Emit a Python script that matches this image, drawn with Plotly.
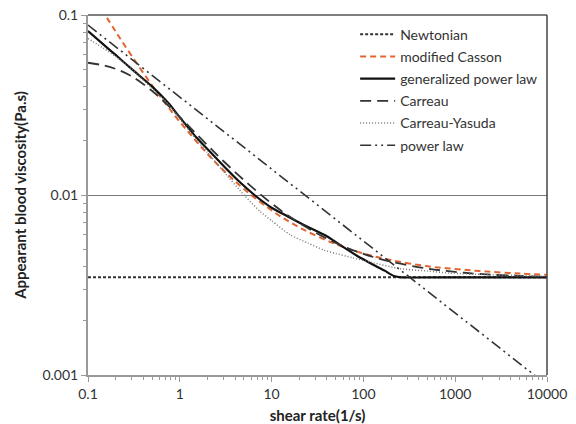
import plotly.graph_objects as go

# ---- data ----
newt_x = [0.1, 10000]
newt_y = [0.00349, 0.00349]

casson_x = [0.14, 0.2, 0.3, 0.5, 0.7, 1, 2, 3, 5, 10, 20, 50, 100, 200, 500, 1000, 2000, 5000, 10000]
casson_y = [0.108, 0.0810, 0.0591, 0.0406, 0.0322, 0.0255, 0.01693, 0.01369, 0.01079, 0.00821,
            0.00661, 0.00533, 0.00473, 0.00435, 0.00402, 0.00388, 0.00377, 0.00366, 0.00360]

gpl_x = [0.1, 0.15, 0.2, 0.3, 0.5, 0.75, 1, 1.5, 2, 3, 4.5, 6.5, 10, 15, 24, 40, 55, 85, 128, 170, 215, 260, 1000, 10000]
gpl_y = [0.0815, 0.068, 0.060, 0.050, 0.040, 0.0324, 0.0270, 0.0210, 0.0180, 0.0145, 0.0118, 0.0100,
         0.0085, 0.0076, 0.0067, 0.0059, 0.0053, 0.0046, 0.0041, 0.0038, 0.00355, 0.00349, 0.00349, 0.00349]

carreau_x = [0.1, 0.15, 0.2, 0.3, 0.5, 0.7, 1, 2, 3, 5, 10, 20, 50, 100, 200, 500, 1000, 2000, 5000, 10000]
carreau_y = [0.0543, 0.0524, 0.0502, 0.0456, 0.0378, 0.0324, 0.0271, 0.0189, 0.0154, 0.0121, 0.00898,
             0.00699, 0.00541, 0.00471, 0.00426, 0.00390, 0.00374, 0.00363, 0.00355, 0.003515]

cy_x = [0.1, 0.15, 0.2, 0.3, 0.5, 0.75, 1, 1.5, 2, 3, 5, 7.5, 10, 16, 25, 37, 50, 75, 128, 250, 500, 900, 2000, 5000, 10000]
cy_y = [0.074, 0.065, 0.059, 0.050, 0.039, 0.032, 0.0265, 0.0205, 0.0172, 0.0135, 0.0100, 0.0081, 0.0072,
        0.0060, 0.0054, 0.00495, 0.00473, 0.00449, 0.0042, 0.0039, 0.00378, 0.00368, 0.00362, 0.00357, 0.00353]

pl_x = [0.1, 1, 10, 100, 1000, 10000]
pl_y = [0.0879, 0.0350, 0.0139, 0.00555, 0.00221, 0.00088]

x_ticks = [0.1, 1, 10, 100, 1000, 10000]
x_ticklabels = ["0.1", "1", "10", "100", "1000", "10000"]
y_ticks = [0.001, 0.01, 0.1]
y_ticklabels = ["0.001", "0.01", "0.1"]
x_minor = [m * d for d in [0.1, 1, 10, 100, 1000] for m in range(2, 10)]
y_minor = [m * d for d in [0.001, 0.01] for m in range(2, 10)]

FONT = "Lato"

fig = go.Figure()
series = [
    (newt_x, newt_y, "Newtonian", dict(color="#333333", width=2, dash="3px,2px")),
    (casson_x, casson_y, "modified Casson", dict(color="#E2652F", width=2, dash="6px,4px", shape="spline")),
    (gpl_x, gpl_y, "generalized power law", dict(color="#111111", width=2.2, shape="spline", smoothing=0.6)),
    (carreau_x, carreau_y, "Carreau", dict(color="#333333", width=1.8, dash="11px,6px", shape="spline")),
    (cy_x, cy_y, "Carreau-Yasuda", dict(color="#777777", width=1.5, dash="1px,2px", shape="spline", smoothing=0.6)),
    (pl_x, pl_y, "power law", dict(color="#333333", width=1.6, dash="11px,4px,2px,4px,2px,4px")),
]
for i, (xs, ys, nm, ln) in enumerate(series):
    fig.add_trace(go.Scatter(x=xs, y=ys, mode="lines", name=nm, line=ln, legendgroup=f"g{i}"))

fig.update_layout(
    width=576, height=424,
    margin=dict(l=88, r=29, t=15, b=49, autoexpand=False),
    paper_bgcolor="white", plot_bgcolor="white",
    font=dict(family=FONT, size=14, color="#333333"),
    showlegend=True,
    legend=dict(x=0.582, y=0.99, xanchor="left", yanchor="top",
                bgcolor="rgba(255,255,255,0)", borderwidth=0,
                font=dict(family=FONT, size=14, color="#333333"),
                traceorder="grouped", tracegroupgap=1, itemwidth=35),
    shapes=[
        dict(type="line", xref="paper", yref="paper", x0=0, x1=1, y0=1, y1=1,
             line=dict(color="#555555", width=1.5)),
        dict(type="line", xref="paper", yref="paper", x0=1, x1=1, y0=0, y1=1,
             line=dict(color="#444444", width=1.5)),
    ],
)

fig.update_xaxes(
    type="log", range=[-1, 4], tickvals=x_ticks, ticktext=x_ticklabels,
    automargin=False,
    showgrid=False, zeroline=False,
    showline=True, linecolor="#999999", linewidth=2,
    ticks="outside", ticklen=5, tickcolor="#999999", tickwidth=1,
    ticklabelstandoff=0,
    minor=dict(ticks="outside", ticklen=3, tickcolor="#999999", tickvals=x_minor, showgrid=False),
    tickfont=dict(family=FONT, size=14, color="#333333"),
    title=dict(text="<b>shear rate(1/s)</b>", font=dict(family=FONT, size=15, color="#222222"), standoff=12),
)
fig.update_yaxes(
    type="log", range=[-3, -1], tickvals=y_ticks, ticktext=y_ticklabels,
    automargin=False,
    showgrid=True, gridcolor="#777777", gridwidth=1,
    zeroline=False,
    showline=True, linecolor="#999999", linewidth=2,
    ticks="outside", ticklen=5, tickcolor="#999999", tickwidth=1,
    minor=dict(ticks="outside", ticklen=3, tickcolor="#999999", tickvals=y_minor, showgrid=False),
    tickfont=dict(family=FONT, size=14, color="#333333"),
    title=dict(text="<b>Appearant blood viscosity(Pa.s)</b>", font=dict(family=FONT, size=15, color="#222222"), standoff=12),
)

fig.write_html("out.html")
